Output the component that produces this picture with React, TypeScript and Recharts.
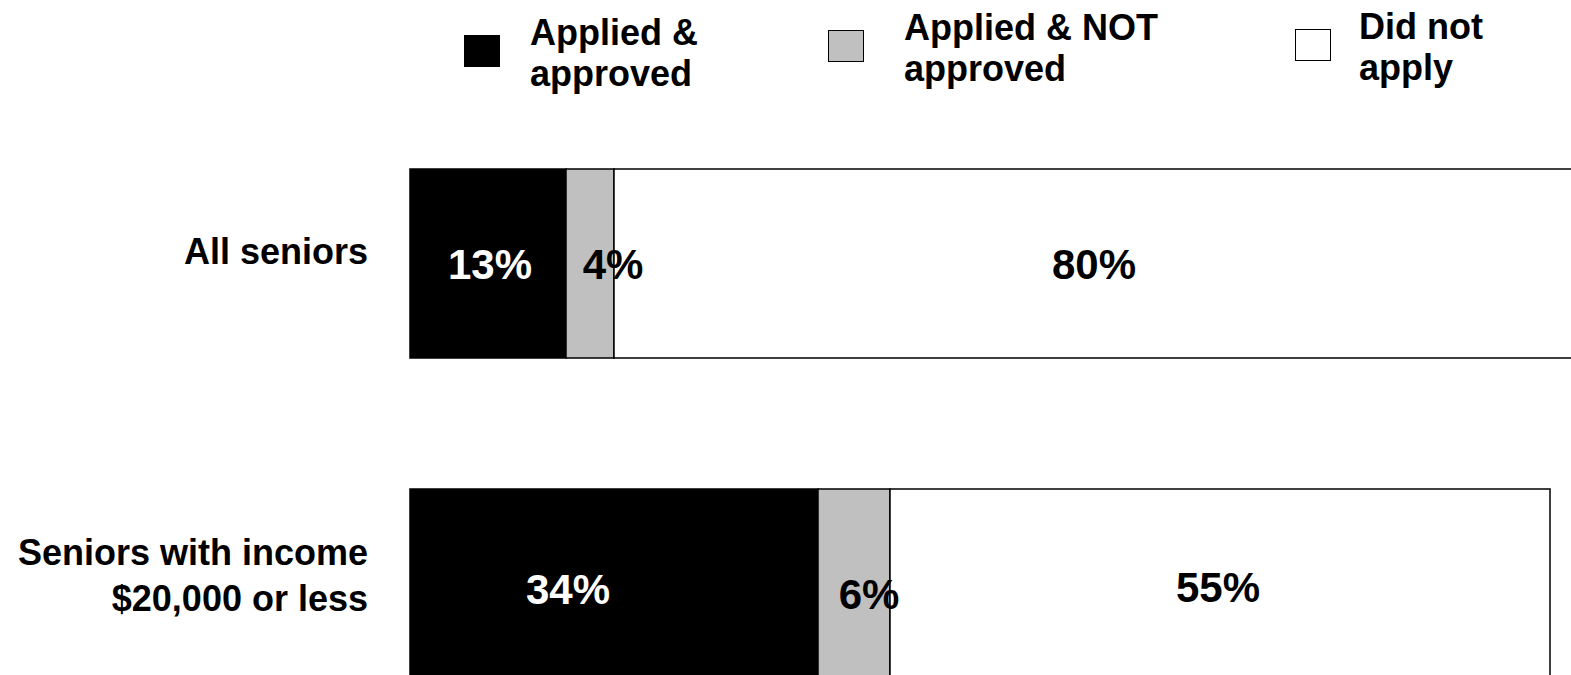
import { BarChart, Bar, XAxis, YAxis, LabelList, Legend } from "recharts";

const categories = ["All seniors", "Seniors with income\n$20,000 or less"];
const approved = [13, 34];
const notApproved = [4, 6];
const didNotApply = [80, 55];

const series = [
  { key: "approved", name: "Applied &\napproved", fill: "#000000", labelColor: "#ffffff" },
  { key: "notApproved", name: "Applied & NOT\napproved", fill: "#c0c0c0", labelColor: "#000000" },
  { key: "didNotApply", name: "Did not\napply", fill: "#ffffff", labelColor: "#000000" },
];

const data = categories.map((name, i) => ({
  name,
  approved: approved[i],
  notApproved: notApproved[i],
  didNotApply: didNotApply[i],
}));

const FONT = "'Liberation Sans', Arial, sans-serif";

// where the original placed its labels off-centre (dx, dy per series, per row)
const labelNudge: Record<string, [number, number][]> = {
  approved: [[2, 0], [-46, 5]],
  notApproved: [[23, 0], [15, 10]],
  didNotApply: [[0, 0], [-2, 3]],
};

// legend item positions across the top
const legendPos = [
  { box: 464, text: 530, top: 12 },
  { box: 828, text: 904, top: 7 },
  { box: 1295, text: 1359, top: 6 },
];

function CategoryTick(props: any) {
  const { x, y, payload } = props;
  const lines = String(payload.value).split("\n");
  const first = lines.length === 1 ? 1 : -18;
  return (
    <text
      x={x}
      y={y}
      textAnchor="end"
      fontFamily={FONT}
      fontWeight="bold"
      fontSize={36}
      fill="#000"
    >
      {lines.map((l, i) => (
        <tspan key={i} x={x} y={y + first + i * 46}>
          {l}
        </tspan>
      ))}
    </text>
  );
}

function makeLabel(key: string, color: string) {
  return (props: any) => {
    const { x, y, width, height, value, index } = props;
    const [dx, dy] = labelNudge[key][index] ?? [0, 0];
    return (
      <text
        x={x + width / 2 + dx}
        y={y + height / 2 + 15 + dy}
        textAnchor="middle"
        fontFamily={FONT}
        fontWeight="bold"
        fontSize={42}
        fill={color}
      >
        {value}%
      </text>
    );
  };
}

function LegendContent(props: any) {
  const payload = [...(props.payload ?? [])].sort(
    (a: any, b: any) =>
      series.findIndex((s) => s.key === a.dataKey) -
      series.findIndex((s) => s.key === b.dataKey)
  );
  return (
    <div style={{ position: "relative", width: 1571, height: 100 }}>
      {payload.map((entry: any, i: number) => {
        const pos = legendPos[i];
        const s = series.find((d) => d.key === entry.dataKey)!;
        return (
          <div key={entry.dataKey}>
            <div
              style={{
                position: "absolute",
                left: pos.box,
                top: pos.top + 23,
                width: 34,
                height: 30,
                background: s.fill,
                border: "1.5px solid #000",
              }}
            />
            <div
              style={{
                position: "absolute",
                left: pos.text,
                top: pos.top,
                fontFamily: FONT,
                fontWeight: "bold",
                fontSize: 36,
                lineHeight: "41px",
                whiteSpace: "pre",
                color: "#000",
              }}
            >
              {entry.value}
            </div>
          </div>
        );
      })}
    </div>
  );
}

export default function App() {
  return (
    <div
      style={{
        position: "absolute",
        left: 0,
        top: 0,
        width: 1571,
        height: 675,
        overflow: "hidden",
        background: "#fff",
      }}
    >
      <BarChart
        width={1640}
        height={760}
        data={data}
        layout="vertical"
        margin={{ top: 103, right: 30, bottom: 17, left: 0 }}
      >
        <XAxis type="number" domain={[0, 100]} hide />
        <YAxis
          type="category"
          dataKey="name"
          width={410}
          axisLine={false}
          tickLine={false}
          tickSize={0}
          tickMargin={42}
          tick={<CategoryTick />}
        />
        <Legend
          layout="horizontal"
          verticalAlign="middle"
          align="center"
          content={<LegendContent />}
          wrapperStyle={{ position: "absolute", top: 0, left: 0, width: 1571, height: 100 }}
        />
        {series.map((s) => (
          <Bar
            key={s.key}
            dataKey={s.key}
            name={s.name}
            stackId="a"
            fill={s.fill}
            stroke="#000"
            strokeWidth={1.5}
            barSize={189}
            isAnimationActive={false}
          >
            <LabelList dataKey={s.key} content={makeLabel(s.key, s.labelColor)} />
          </Bar>
        ))}
      </BarChart>
    </div>
  );
}
